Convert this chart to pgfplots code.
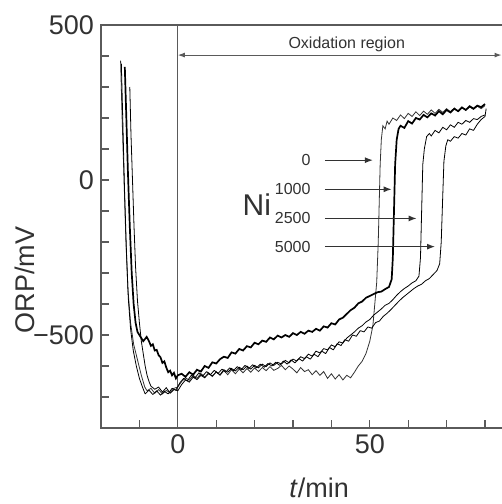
\documentclass[border=0pt]{standalone}
\usepackage{fontspec}
\setmainfont{Liberation Sans}
\usepackage{pgfplots}
\pgfplotsset{compat=1.18}
\usetikzlibrary{arrows.meta,calc}
\definecolor{ink}{RGB}{50,50,50}
\definecolor{axisgray}{RGB}{90,90,90}
\definecolor{txt}{RGB}{50,50,50}

\pgfplotstableread{
t v
-14.9 385
-14.5 200
-14.0 0
-13.5 -200
-13.0 -350
-12.3 -460
-11.5 -530
-10.5 -580
-9.5 -630
-8.6 -668
-8 -680
-7 -672
-6 -688
-5 -676
-4 -690
-3 -679
-2 -686
-1 -672
0 -668
1 -650
2 -638
3 -646
4 -630
5 -640
6 -624
7 -636
8 -622
9 -634
10 -618
11 -630
12 -615
13 -628
14 -612
15 -625
16 -610
17 -622
18 -608
19 -620
20 -606
21 -618
22 -605
23 -615
24 -602
25 -614
26 -608
27 -598
28 -612
29 -600
30 -610
31 -622
32 -605
33 -618
34 -612
35 -628
36 -615
37 -630
38 -618
39 -640
40 -625
41 -642
42 -628
43 -645
44 -630
45 -638
46 -620
47 -600
48 -585
49 -560
50 -520
50.8 -470
51.3 -400
51.8 -330
52.2 -200
52.5 -50
52.7 50
53 130
53.4 175
54 165
54.5 190
55 180
56 200
57 192
58 210
59 198
60 215
61 205
62 220
63 208
64 222
65 212
66 226
67 215
68 228
69 218
70 230
71 220
72 232
73 222
74 234
75 225
76 236
77 228
78 238
79 230
80 240
}\niA

\pgfplotstableread{
t v
-13.8 365
-13.4 200
-13.0 30
-12.5 -150
-12.0 -300
-11.5 -400
-11 -460
-10.5 -490
-10 -500
-9.5 -510
-9 -520
-8.1 -506
-7.5 -520
-7 -535
-6.5 -530
-6 -550
-5.5 -548
-5 -565
-4.5 -572
-4 -590
-3.5 -585
-3 -605
-2.5 -620
-2 -615
-1.5 -630
-1 -622
-0.5 -640
0 -630
1 -625
2 -635
3 -620
4 -628
5 -612
6 -618
7 -600
8 -606
9 -588
10 -592
11 -578
12 -570
13 -574
14 -556
15 -560
16 -545
17 -550
18 -536
19 -540
20 -525
21 -530
22 -518
23 -522
24 -508
25 -514
26 -502
27 -508
28 -500
29 -506
30 -494
31 -500
32 -490
33 -496
34 -486
35 -490
36 -480
37 -486
38 -472
39 -476
40 -462
41 -466
42 -450
43 -444
44 -432
45 -420
46 -412
47 -398
48 -392
49 -380
50 -374
51 -368
52 -362
53 -360
54 -352
55 -345
55.7 -320
56 -250
56.3 -100
56.6 50
57 130
57.5 165
58 175
59 168
60 190
61 182
62 200
63 195
64 210
65 202
66 215
67 208
68 222
69 212
70 226
71 218
72 230
73 222
74 234
75 226
76 238
77 230
78 240
79 235
80 245
}\niB

\pgfplotstableread{
t v
-12.5 300
-12.2 150
-11.8 0
-11.4 -150
-11 -280
-10.5 -390
-10 -460
-9.5 -520
-9 -560
-8.5 -600
-8 -630
-7.5 -650
-7 -665
-6 -675
-5 -668
-4 -684
-3 -670
-2 -688
-1 -676
0 -680
1 -660
2 -645
3 -652
4 -636
5 -644
6 -630
7 -638
8 -625
9 -632
10 -620
11 -628
12 -612
13 -620
14 -608
15 -616
16 -604
17 -612
18 -600
19 -610
20 -598
21 -606
22 -594
23 -602
24 -590
25 -598
26 -588
27 -594
28 -582
29 -590
30 -578
31 -584
32 -570
33 -576
34 -562
35 -568
36 -552
37 -558
38 -544
39 -548
40 -532
41 -538
42 -522
43 -526
44 -510
45 -500
46 -490
47 -478
48 -470
49 -458
50 -450
51 -436
52 -426
53 -416
54 -404
55 -398
56 -386
57 -372
58 -360
59 -350
60 -342
61 -332
62 -325
62.8 -310
63.2 -250
63.5 -100
63.8 50
64.2 100
64.8 140
65.5 150
66 142
67 160
68 152
69 170
70 162
71 178
72 170
73 186
74 180
75 192
76 186
77 198
78 195
79 205
80 210
}\niC

\pgfplotstableread{
t v
-14.7 375
-14.3 180
-13.9 -20
-13.4 -220
-12.9 -380
-12.3 -480
-11.6 -550
-10.8 -600
-10 -640
-9.2 -668
-8.5 -690
-7.5 -678
-6.5 -692
-5.5 -680
-4.5 -694
-3.5 -682
-2.5 -690
-1.5 -672
-0.5 -678
0.5 -655
1.5 -640
2.5 -648
3.5 -630
4.5 -638
5.5 -622
6.5 -632
7.5 -618
8.5 -628
9.5 -614
10.5 -624
11.5 -610
12.5 -620
13.5 -606
14.5 -615
15.5 -602
16.5 -612
17.5 -598
18.5 -608
19.5 -596
20.5 -606
21.5 -594
22.5 -604
23.5 -592
24.5 -600
25.5 -588
26.5 -598
27.5 -584
28.5 -594
29.5 -580
30.5 -590
31.5 -576
32.5 -584
33.5 -570
34.5 -578
35.5 -562
36.5 -570
37.5 -552
38.5 -560
39.5 -540
40.5 -548
41.5 -528
42.5 -534
43.5 -515
44.5 -520
45.5 -500
46.5 -504
47.5 -486
48.5 -490
49.5 -474
50.5 -478
51.5 -460
52.5 -455
53.5 -440
54.5 -430
55.5 -418
56.5 -405
57.5 -392
58.5 -380
59.5 -370
60.5 -360
61.5 -350
62.5 -342
63.5 -336
64.5 -325
65.5 -318
66.5 -305
67.5 -292
68.2 -270
68.6 -200
69 -50
69.3 60
69.8 110
70.3 130
71 125
72 140
73 135
74 150
75 145
76 165
77 160
78 180
79 195
80 205
80.3 230
}\niD

\begin{document}
\begin{tikzpicture}
\begin{axis}[
  scale only axis, width=201.6pt, height=201.5pt,
  xmin=-20, xmax=85, ymin=-800, ymax=500,
  clip=false,
  axis line style={axisgray, line width=0.7pt},
  tick style={axisgray, line width=0.6pt},
  tick align=inside, major tick length=4pt, minor tick length=4pt,
  xtick pos=bottom, ytick pos=left,
  xtick={0,50}, xticklabels={0,50},
  minor xtick={-10,10,20,30,40,60,70,80},
  ytick={-500,0,500}, yticklabels={−500,0,500},
  minor ytick={-700,-600,-400,-300,-200,-100,100,200,300,400},
  ticklabel style={font=\fontsize{13.5}{15}\selectfont, text=txt},
  xlabel={\textit{t}/min}, ylabel={ORP/mV},
  label style={font=\fontsize{13.5}{15}\selectfont, text=txt},
  xlabel style={at={(axis description cs:0.541,-0.149)}, anchor=center},
  ylabel style={at={(axis description cs:-0.189,0.367)}, anchor=center},
  cycle list={{ink, line width=0.85pt, mark=none, line join=round}},
]
\coordinate (o) at (rel axis cs:0,0);
\draw[axisgray, line width=0.6pt] (axis cs:0,-800) -- (axis cs:0,500);
\addplot table[x=t, y=v] {\niA};
\addplot table[x=t, y=v] {\niB};
\addplot table[x=t, y=v] {\niC};
\addplot table[x=t, y=v] {\niD};
% oxidation region
\draw[axisgray, line width=0.5pt, {Latex[length=3.5pt,width=2.5pt]}-{Latex[length=3.5pt,width=2.5pt]}]
  (axis cs:0,403) -- (axis cs:84.3,403);
\node[text=txt, font=\fontsize{8}{9}\selectfont] at (axis cs:44,438) {Oxidation region};
% Ni labels
\node[text=txt, font=\fontsize{15}{16}\selectfont] at (axis cs:20.6,-80) {Ni};
\node[text=txt, anchor=east, font=\fontsize{8}{9}\selectfont] at (axis cs:36.4,64) {0};
\node[text=txt, anchor=east, font=\fontsize{8}{9}\selectfont] at (axis cs:36.4,-30) {1000};
\node[text=txt, anchor=east, font=\fontsize{8}{9}\selectfont] at (axis cs:36.4,-124) {2500};
\node[text=txt, anchor=east, font=\fontsize{8}{9}\selectfont] at (axis cs:36.4,-215) {5000};
\draw[ink, line width=0.6pt, -{Latex[length=4pt,width=3pt]}] (axis cs:38.3,64) -- (axis cs:50.8,64);
\draw[ink, line width=0.6pt, -{Latex[length=4pt,width=3pt]}] (axis cs:38.3,-30) -- (axis cs:55.7,-30);
\draw[ink, line width=0.6pt, -{Latex[length=4pt,width=3pt]}] (axis cs:38.3,-124) -- (axis cs:62.2,-124);
\draw[ink, line width=0.6pt, -{Latex[length=4pt,width=3pt]}] (axis cs:38.3,-215) -- (axis cs:67,-215);
\end{axis}
\pgfresetboundingbox
\path[use as bounding box] ($(o)+(-50.5pt,-38pt)$) rectangle ($(o)+(200.5pt,214pt)$);
\end{tikzpicture}
\end{document}
